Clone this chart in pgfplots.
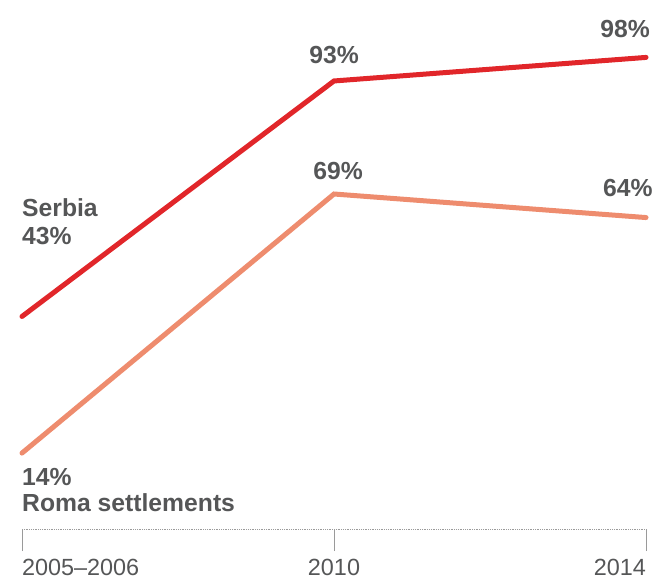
\documentclass[border=0pt]{standalone}
\usepackage{pgfplots}
\pgfplotsset{compat=1.18}
\usepackage{fontspec}
\setmainfont{Liberation Sans}
\definecolor{serbia}{HTML}{E1262A}
\definecolor{roma}{HTML}{EE8C6E}
\definecolor{txt}{HTML}{555657}
\definecolor{axisgray}{HTML}{9A9A9A}
\newcommand\lblfont{\fontsize{24.8}{29}\selectfont\bfseries}
\newcommand\tickfont{\fontsize{23.5}{27}\selectfont}
\tikzset{lbl/.style={font=\lblfont, text=txt, inner sep=0pt}}
\begin{document}
\begin{tikzpicture}
\path[use as bounding box] (-22bp,-52bp) rectangle (639bp,529bp);
\begin{axis}[
    scale only axis,
    width=624bp, height=481bp,
    xmin=0, xmax=2, ymin=-2.12, ymax=100,
    clip=false,
    axis y line=none,
    axis x line*=bottom,
    axis line style={axisgray, densely dotted, line width=0.8pt},
    xtick={0,1,2},
    xticklabels={\makebox[0pt][l]{2005--2006}, 2010, \makebox[0pt][r]{2014}},
    tick align=outside,
    major tick length=22bp,
    xtick style={axisgray, solid, line width=0.8pt},
    xticklabel style={anchor=base, yshift=-24bp, font=\tickfont, text=txt, inner sep=0pt},
    ytick=\empty,
]
\addplot[serbia, line width=5bp, line cap=round, line join=miter] coordinates {(0,43) (1,93) (2,98)};
\addplot[roma, line width=5bp, line cap=round, line join=miter] coordinates {(0,14) (1,69) (2,64)};
\node[lbl, anchor=base west] at (axis cs:0,64.3) {Serbia};
\node[lbl, anchor=base west] at (axis cs:0,58.2) {43\%};
\node[lbl, anchor=base west] at (axis cs:0,7.2) {14\%};
\node[lbl, anchor=base west] at (axis cs:0,1.5) {Roma settlements};
\node[lbl, anchor=base] at (axis cs:1,96.8) {93\%};
\node[lbl, anchor=base east] at (axis cs:2.013,102.3) {98\%};
\node[lbl, anchor=base] at (axis cs:1.013,72.0) {69\%};
\node[lbl, anchor=base east] at (axis cs:2.022,68.4) {64\%};
\end{axis}
\end{tikzpicture}
\end{document}
